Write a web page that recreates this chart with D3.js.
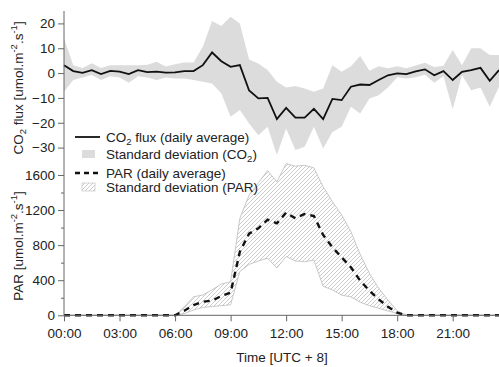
<!DOCTYPE html>
<html>
<head>
<meta charset="utf-8">
<script src="https://cdn.jsdelivr.net/npm/d3@7"></script>
<style>
  body { margin: 0; background: #fff; }
  svg { display: block; font-family: "Liberation Sans", Arial, sans-serif; }
</style>
</head>
<body>
<div id="chart"></div>
<script>
// half-hourly time of day (hours)
const hours = d3.range(0, 24, 0.5);

// CO2 flux, daily average and +/- standard deviation envelope
const co2Mean = [3.2, 0.8, 0.1, 1.2, -0.4, 0.9, 0.6, -0.4, 1.2, 0.4, 0.6, 0.2,
  0.3, 0.8, 0.8, 3.2, 8.3, 4.8, 2.5, 3.2, -7.0, -10.2, -10.0, -18.5,
  -14.0, -17.9, -17.9, -14.4, -18.5, -10.4, -10.9, -5.5, -4.6, -4.8, -2.8, -0.9,
  -0.1, -0.4, 0.7, 1.5, -0.9, 0.8, -2.8, 0.5, 1.2, 2.1, -3.1, 1.2];
const co2Upper = [14, 3.2, 2, 4, 2, 3.2, 3.2, 3.2, 3.2, 3.4, 4.6, 2.7,
  3.6, 4.3, 4.3, 10.6, 21, 19, 22.7, 20, 5.5, 3.9, 1.2, -3.5,
  -5.8, -5.2, -6.2, -7.5, -6.2, 3.2, 0.5, 2.8, 6.9, 0.9, 2.8, 1.9,
  2.8, 1.9, 3.1, 4.2, 2.5, 3, 9.3, 3.2, 10, 10, 7.3, 7.3];
const co2Lower = [-7.5, -2.8, -1.8, -0.8, -2.8, -1.3, -1.8, -3.9, -1.3, -1.8, -2.8, -1.8,
  -2.2, -2.2, -2.8, -3.5, -4.2, -8.2, -17.6, -14.9, -20.3, -25, -21.6, -33,
  -22.3, -31, -29.7, -21.6, -30.4, -23.7, -21.6, -13.6, -16.3, -10.2, -8.9, -5.8,
  -1.7, -2.2, -1.7, -0.7, -3.9, -1.3, -14.6, -0.8, -6.9, -5.8, -13.6, -5.5];

// PAR, daily average and +/- standard deviation envelope
const parMean = [0, 0, 0, 0, 0, 0, 0, 0, 0, 0, 0, 0,
  0, 53, 117, 155, 167, 220, 258, 725, 930, 992, 1090, 1049,
  1170, 1106, 1155, 1132, 916, 775, 661, 547, 395, 281, 182, 98,
  30, 0, 0, 0, 0, 0, 0, 0, 0, 0, 0, 0];
const parUpper = [0, 0, 0, 0, 0, 0, 0, 0, 0, 0, 0, 0,
  0, 98, 212, 231, 290, 357, 383, 1106, 1370, 1510, 1650, 1520,
  1730, 1700, 1710, 1680, 1467, 1296, 1144, 953, 695, 479, 308, 174,
  53, 0, 0, 0, 0, 0, 0, 0, 0, 0, 0, 0];
const parLower = [0, 0, 0, 0, 0, 0, 0, 0, 0, 0, 0, 0,
  0, 20, 60, 90, 100, 110, 120, 500, 580, 620, 650, 540,
  670, 620, 610, 630, 330, 290, 230, 210, 150, 110, 80, 50,
  20, 0, 0, 0, 0, 0, 0, 0, 0, 0, 0, 0];

// axis ticks
const timeTicks = [0, 3, 6, 9, 12, 15, 18, 21];
const co2Ticks = [-30, -20, -10, 0, 10, 20];
const parTicks = [0, 400, 800, 1200, 1600];
const parMinorTicks = [200, 600, 1000, 1400];

const width = 499;
const height = 367;
const fs = 13.5;

const svg = d3.select("#chart")
  .append("svg")
  .attr("width", width)
  .attr("height", height);

// hatch pattern for PAR std dev
const defs = svg.append("defs");
const pat = defs.append("pattern")
  .attr("id", "hatch")
  .attr("patternUnits", "userSpaceOnUse")
  .attr("width", 4)
  .attr("height", 4);
pat.append("rect").attr("width", 4).attr("height", 4).attr("fill", "#fff");
pat.append("path")
  .attr("d", "M-1,1 l2,-2 M0,4 l4,-4 M3,5 l2,-2")
  .attr("stroke", "#aaa")
  .attr("stroke-width", 0.6);

// scales
const x = d3.scaleLinear().domain([0, 23.5]).range([64, 499]);
const yCo2 = d3.scaleLinear().domain([-35, 25]).range([160, 11]);
const yPar = d3.scaleLinear().domain([0, 1750]).range([315.3, 161.8]);

const co2Rows = hours.map((h, i) => ({ h, m: co2Mean[i], lo: co2Lower[i], hi: co2Upper[i] }));
const parRows = hours.map((h, i) => ({ h, m: parMean[i], lo: parLower[i], hi: parUpper[i] }));

// CO2 band + line
svg.append("path")
  .datum(co2Rows)
  .attr("fill", "#dcdcdc")
  .attr("d", d3.area().x(d => x(d.h)).y0(d => yCo2(d.lo)).y1(d => yCo2(d.hi)));

svg.append("path")
  .datum(co2Rows)
  .attr("fill", "none")
  .attr("stroke", "#111")
  .attr("stroke-width", 1.8)
  .attr("d", d3.line().x(d => x(d.h)).y(d => yCo2(d.m)));

// PAR band + dashed line
svg.append("path")
  .datum(parRows)
  .attr("fill", "url(#hatch)")
  .attr("stroke", "#bbb")
  .attr("stroke-width", 0.8)
  .attr("d", d3.area().x(d => x(d.h)).y0(d => yPar(d.lo)).y1(d => yPar(d.hi)));

svg.append("path")
  .datum(parRows)
  .attr("fill", "none")
  .attr("stroke", "#111")
  .attr("stroke-width", 2.4)
  .attr("stroke-dasharray", "6,5")
  .attr("d", d3.line().x(d => x(d.h)).y(d => yPar(d.m)));

// axes
const axisColor = "#666";
function styleAxis(g) {
  g.select(".domain").remove();
  g.selectAll(".tick line").attr("stroke", axisColor);
  g.selectAll(".tick text").attr("fill", "#222").attr("font-size", fs)
    .attr("font-family", "Liberation Sans, Arial, sans-serif");
}

svg.append("g")
  .attr("transform", `translate(${x(0)},0)`)
  .call(d3.axisLeft(yCo2).tickValues(co2Ticks).tickSize(6).tickPadding(3).tickFormat(d3.format("d")))
  .call(styleAxis);

svg.append("g")
  .attr("transform", `translate(${x(0)},0)`)
  .call(d3.axisLeft(yPar).tickValues(parTicks).tickSize(6).tickPadding(3).tickFormat(d3.format("d")))
  .call(styleAxis);

svg.append("g")
  .attr("transform", `translate(${x(0)},0)`)
  .call(d3.axisLeft(yPar).tickValues(parMinorTicks).tickSize(3).tickFormat(""))
  .call(styleAxis);

svg.append("g")
  .attr("transform", `translate(0,${yPar(0)})`)
  .call(d3.axisBottom(x).tickValues(timeTicks).tickSize(6).tickPadding(7)
    .tickFormat(d => String(d).padStart(2, "0") + ":00"))
  .call(styleAxis);

// axis lines
svg.append("line")
  .attr("x1", x(0)).attr("x2", x(0))
  .attr("y1", yCo2.range()[1]).attr("y2", yPar.range()[0])
  .attr("stroke", axisColor).attr("stroke-width", 1);
svg.append("line")
  .attr("x1", x(0)).attr("x2", x.range()[1])
  .attr("y1", yPar(0)).attr("y2", yPar(0))
  .attr("stroke", axisColor).attr("stroke-width", 1);

// axis titles
function unitLabel(g, prefix, subAfter) {
  const t = g.append("text")
    .attr("font-size", fs)
    .attr("fill", "#222")
    .attr("text-anchor", "middle");
  if (subAfter) {
    t.append("tspan").text("CO");
    t.append("tspan").attr("font-size", 9.5).attr("dy", 3).text("2");
    t.append("tspan").attr("dy", -3).text(" flux [umol.m");
  } else {
    t.append("tspan").text(prefix + " [umol.m");
  }
  t.append("tspan").attr("font-size", 9.5).attr("dy", -6).text("-2");
  t.append("tspan").attr("dy", 6).text(".s");
  t.append("tspan").attr("font-size", 9.5).attr("dy", -6).text("-1");
  t.append("tspan").attr("dy", 6).text("]");
  return t;
}

unitLabel(svg.append("g").attr("transform", `translate(23,${yCo2(-6)}) rotate(-90)`), "", true);
unitLabel(svg.append("g").attr("transform", `translate(23,${yPar(790)}) rotate(-90)`), "PAR", false);

svg.append("text")
  .attr("x", 282)
  .attr("y", 362)
  .attr("text-anchor", "middle")
  .attr("font-size", fs)
  .attr("fill", "#222")
  .text("Time [UTC + 8]");

// legend
const legend = svg.append("g").attr("font-size", fs).attr("fill", "#222");
const lx = 75, tx = 106;

legend.append("line").attr("x1", lx).attr("x2", lx + 25).attr("y1", 137).attr("y2", 137)
  .attr("stroke", "#111").attr("stroke-width", 1.8);
const l1 = legend.append("text").attr("x", tx).attr("y", 141.5);
l1.append("tspan").text("CO");
l1.append("tspan").attr("font-size", 9.5).attr("dy", 3).text("2");
l1.append("tspan").attr("dy", -3).text(" flux (daily average)");

legend.append("rect").attr("x", 82).attr("y", 150).attr("width", 13).attr("height", 8)
  .attr("fill", "#dcdcdc");
const l2 = legend.append("text").attr("x", tx).attr("y", 158.5);
l2.append("tspan").text("Standard deviation (CO");
l2.append("tspan").attr("font-size", 9.5).attr("dy", 3).text("2");
l2.append("tspan").attr("dy", -3).text(")");

legend.append("line").attr("x1", lx).attr("x2", lx + 25).attr("y1", 173).attr("y2", 173)
  .attr("stroke", "#111").attr("stroke-width", 2.4).attr("stroke-dasharray", "5,4");
legend.append("text").attr("x", tx).attr("y", 177.5).text("PAR (daily average)");

legend.append("rect").attr("x", 82).attr("y", 183).attr("width", 13).attr("height", 8)
  .attr("fill", "url(#hatch)").attr("stroke", "#bbb").attr("stroke-width", 0.6);
legend.append("text").attr("x", tx).attr("y", 191.5).text("Standard deviation (PAR)");
</script>
</body>
</html>
